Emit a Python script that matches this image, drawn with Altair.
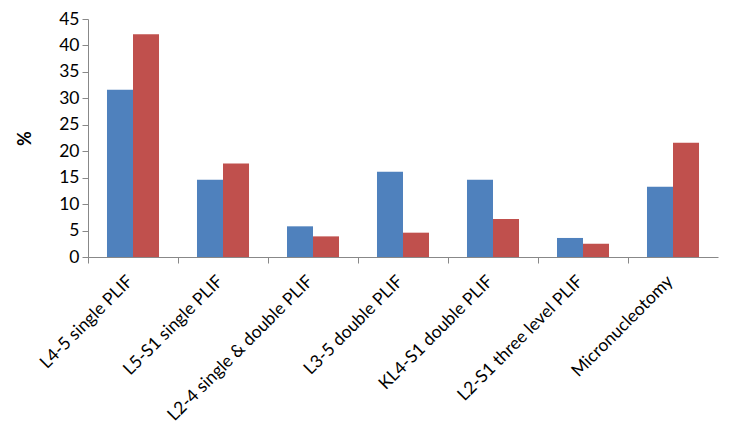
import altair as alt
import pandas as pd

categories = ["L4-5 single PLIF", "L5-S1 single PLIF", "L2-4 single & double PLIF",
              "L3-5 double PLIF", "KL4-S1 double PLIF", "L2-S1 three level PLIF",
              "Micronucleotomy"]
series_a = [31.6, 14.6, 5.8, 16.1, 14.6, 3.6, 13.3]
series_b = [42.1, 17.7, 3.9, 4.6, 7.2, 2.5, 21.6]
series_names = ["A", "B"]
colors = ["#4F81BD", "#C0504D"]

rows = []
for c, a, b in zip(categories, series_a, series_b):
    rows.append({"cat": c, "series": series_names[0], "value": a})
    rows.append({"cat": c, "series": series_names[1], "value": b})
df = pd.DataFrame(rows)

font = "Lato"

bars = alt.Chart(df).mark_bar().encode(
    x=alt.X("cat:N", sort=categories,
            scale=alt.Scale(paddingInner=0, paddingOuter=0),
            axis=alt.Axis(title=None, labelAngle=-45, bandPosition=0,
                          labelFontSize=17.5, labelFont=font, labelColor="#000",
                          domainColor="#888", tickColor="#888", tickSize=6,
                          labelPadding=9, labelOffset=-9, labelLimit=400)),
    xOffset=alt.XOffset("series:N", scale=alt.Scale(paddingInner=0, paddingOuter=0.73)),
    y=alt.Y("value:Q", scale=alt.Scale(domain=[0, 45]),
            axis=alt.Axis(title="%", values=list(range(0, 50, 5)), grid=False,
                          labelFontSize=17.5, labelFont=font, labelColor="#000",
                          titleFont=font, titleFontSize=18, titleFontWeight="bold",
                          titleColor="#000", domainColor="#888", tickColor="#888",
                          tickSize=6, labelPadding=3, titlePadding=24)),
    color=alt.Color("series:N", scale=alt.Scale(domain=series_names, range=colors), legend=None),
)

chart = bars.properties(
    width=630, height=238,
    autosize=alt.AutoSizeParams(type="none"),
    padding={"left": 80, "top": 11, "right": 24, "bottom": 180},
).configure_view(stroke=None)

chart.save("out.html", embed_options={"renderer": "svg", "actions": False})
